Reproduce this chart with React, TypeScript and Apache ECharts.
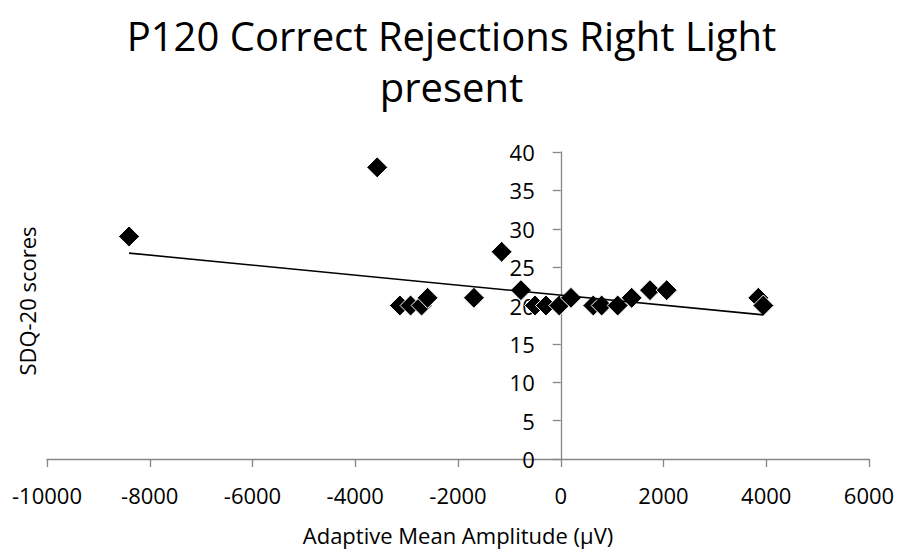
import React, { useEffect, useRef } from "react";
import * as echarts from "echarts";

// Scatter points: amplitude (µV) and SDQ-20 score
const amplitudes = [
  -8403, -3573, -3131, -2923, -2709, -2592, -1690, -1151, -775, -502, -288,
  -29, 199, 633, 796, 1108, 1380, 1737, 2062, 3846, 3944,
];
const scores = [
  29, 38, 20, 20, 20, 21, 21, 27, 22, 20, 20, 20, 21, 20, 20, 20, 21, 22, 22,
  21, 20,
];
// Linear trendline endpoints as drawn in the reference
const trendX = [-8403, 3944];
const trendY = [26.83, 18.78];

const titleLines = ["P120 Correct Rejections Right Light", "present"];
const xAxisTitle = "Adaptive Mean Amplitude (µV)";
const yAxisTitle = "SDQ-20 scores";

const X_MIN = -10000;
const X_MAX = 6000;

const FONT = "'Open Sans', sans-serif";
const AXIS_GRAY = "#868686";

const W = 903;
const H = 551;
const GRID_LEFT = 47;
const GRID_RIGHT = 34;

export default function App() {
  const ref = useRef<HTMLDivElement>(null);

  useEffect(() => {
    if (!ref.current) return;
    const chart = echarts.init(ref.current, undefined, { renderer: "svg" });
    const points = amplitudes.map((x, i) => [x, scores[i]]);
    const trend = trendX.map((x, i) => [x, trendY[i]]);
    const gridW = W - GRID_LEFT - GRID_RIGHT;
    // place the value axis where x = 0 (labels travel with it)
    const yOffset = -((0 - X_MIN) / (X_MAX - X_MIN)) * gridW;

    chart.setOption({
      animation: false,
      backgroundColor: "#ffffff",
      textStyle: { fontFamily: FONT },
      title: {
        text: titleLines.join("\n"),
        left: "center",
        top: 5,
        textStyle: {
          fontFamily: FONT,
          fontSize: 40,
          lineHeight: 51,
          fontWeight: "normal",
          color: "#000000",
        },
      },
      grid: { left: GRID_LEFT, right: GRID_RIGHT, top: 152, bottom: 91, containLabel: false },
      xAxis: {
        type: "value",
        min: X_MIN,
        max: X_MAX,
        interval: 2000,
        name: xAxisTitle,
        nameLocation: "middle",
        nameGap: 65,
        nameTextStyle: { fontFamily: FONT, fontSize: 22, color: "#000000" },
        axisLine: { show: true, lineStyle: { color: AXIS_GRAY, width: 1.3 } },
        axisTick: { show: true, length: 8, lineStyle: { color: AXIS_GRAY, width: 1.3 } },
        axisLabel: {
          margin: 25,
          fontFamily: FONT,
          fontSize: 22,
          color: "#000000",
          formatter: (v: number) => String(v),
        },
        splitLine: { show: false },
      },
      yAxis: {
        type: "value",
        min: 0,
        max: 40,
        interval: 5,
        position: "left",
        offset: yOffset,
        axisLine: { show: true, onZero: false, lineStyle: { color: AXIS_GRAY, width: 1.3 } },
        axisTick: { show: true, length: 8, lineStyle: { color: AXIS_GRAY, width: 1.3 } },
        axisLabel: {
          margin: 26,
          fontFamily: FONT,
          fontSize: 22,
          color: "#000000",
          formatter: (v: number) => String(v),
        },
        splitLine: { show: false },
      },
      graphic: [
        {
          type: "text",
          x: 27,
          y: 301,
          rotation: Math.PI / 2,
          style: {
            text: yAxisTitle,
            fontFamily: FONT,
            fontSize: 22,
            fill: "#000000",
            textAlign: "center",
            textVerticalAlign: "middle",
          },
        },
      ],
      series: [
        {
          type: "scatter",
          data: points,
          symbol: "diamond",
          symbolSize: 21,
          itemStyle: { color: "#000000", opacity: 1, borderColor: "#ffffff", borderWidth: 1 },
          z: 2,
        },
        {
          type: "line",
          data: trend,
          showSymbol: false,
          symbol: "none",
          lineStyle: { color: "#000000", width: 1.6 },
          z: 3,
        },
      ],
    });
    return () => chart.dispose();
  }, []);

  return (
    <div
      ref={ref}
      style={{ position: "fixed", left: 0, top: 0, width: W, height: H }}
    />
  );
}
